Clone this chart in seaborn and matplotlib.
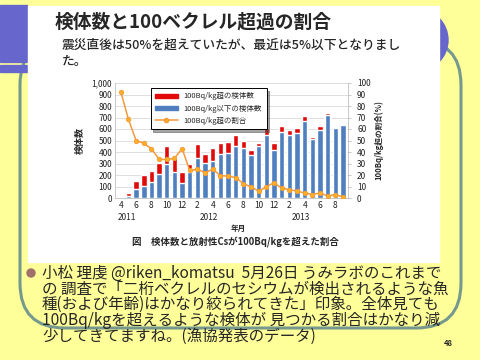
import pandas as pd
import matplotlib.pyplot as plt
import seaborn as sns
from matplotlib.patches import Rectangle, Circle, FancyBboxPatch, Patch
from matplotlib.lines import Line2D
from matplotlib.transforms import blended_transform_factory

# Monthly data, Apr 2011 - Sep 2013
months = [4, 5, 6, 7, 8, 9, 10, 11, 12,
          1, 2, 3, 4, 5, 6, 7, 8, 9, 10, 11, 12,
          1, 2, 3, 4, 5, 6, 7, 8, 9]
below_100 = [2, 15, 75, 105, 135, 205, 300, 230, 130,
             225, 350, 305, 320, 380, 390, 455, 435, 372, 448, 546, 415,
             578, 548, 568, 673, 510, 592, 718, 605, 635]
over_100 = [10, 30, 70, 95, 100, 100, 150, 120, 100,
            70, 120, 80, 115, 95, 95, 95, 62, 43, 34, 64, 65,
            52, 42, 42, 42, 18, 35, 17, 15, 5]
ratio = [92.5, 68.5, 50, 47.5, 43, 33.5, 33.5, 34.4, 43,
         24, 25, 22, 25, 19.5, 19, 17.8, 12.5, 9.6, 6, 9.6, 13.4,
         8.5, 7.3, 6, 4.4, 3, 4.4, 1.7, 3, 0.9]
year_labels = ["2011", "2012", "2013"]

df = pd.DataFrame({
    "idx": range(len(months)),
    "below": below_100,
    "total": [b + o for b, o in zip(below_100, over_100)],
    "ratio": ratio,
})

sns.set_style("white")
plt.rcParams["font.family"] = ["Noto Sans CJK JP", "DejaVu Sans"]

red = "#E00A0A"
blue = "#4F7FBE"
orange = "#F39A3A"
slide_bg = "#FFFF99"
teal = "#76998E"
deco = "#6666CC"

fig = plt.figure(figsize=(4.8, 3.6), dpi=100)
fig.patch.set_facecolor(slide_bg)

# Slide background layer in pixel coordinates
bg = fig.add_axes([0, 0, 1, 1], zorder=0)
bg.set_xlim(0, 480)
bg.set_ylim(360, 0)
bg.axis("off")
bg.add_patch(FancyBboxPatch((20, 40), 441, 288, boxstyle="round,pad=0,rounding_size=45",
                            fill=False, edgecolor=teal, linewidth=2.2))
bg.add_patch(Rectangle((0, 5), 27, 57, color=deco))
bg.add_patch(Rectangle((0, 64.5), 27, 7, color=deco))
bg.add_patch(Circle((417, 40), 31, color=deco))
bg.add_patch(Rectangle((28, 6), 411, 256, color="white"))

bg.text(55, 22, "検体数と100ベクレル超過の割合", fontsize=13.5, fontweight="bold",
        va="center", ha="left")
bg.text(62, 45, "震災直後は50%を超えていたが、最近は5%以下となりまし",
        fontsize=9.2, fontweight="medium", va="center", ha="left")
bg.text(62, 61, "た。", fontsize=9.2, fontweight="medium", va="center", ha="left")
bg.text(238, 228, "年月", fontsize=5.5, fontweight="bold", ha="center", va="center")
bg.text(235, 242, "図　検体数と放射性Csが100Bq/kgを超えた割合", fontsize=6.8,
        fontweight="bold", ha="center", va="center")
bg.text(80, 140, "検体数", fontsize=6.5, fontweight="bold", rotation=90,
        ha="center", va="center")
bg.text(379, 140, "100Bq/kg超の割合(%)", fontsize=5.5, fontweight="bold", rotation=90,
        ha="center", va="center")

# Bullet text
bg.add_patch(Circle((31, 273), 4, color="#A0706A"))
lines = [
    "小松 理虔 @riken_komatsu  5月26日 うみラボのこれまで",
    "の 調査で「二桁ベクレルのセシウムが検出されるような魚",
    "種(および年齢)はかなり絞られてきた」印象。全体見ても",
    "100Bq/kgを超えるような検体が 見つかる割合はかなり減",
    "少してきてますね。(漁協発表のデータ)",
]
for i, line in enumerate(lines):
    bg.text(42, 273 + i * 15.8, line, fontsize=11.2, ha="left", va="center")
bg.text(448, 343, "48", fontsize=5.5, fontweight="bold", ha="center", va="center")

# Chart
ax = fig.add_axes([115 / 480, 1 - 198 / 360, 233 / 480, 115 / 360], zorder=2)
ax.set_facecolor("white")
sns.barplot(data=df, x="idx", y="total", color=red, width=0.72, saturation=1, ax=ax)
sns.barplot(data=df, x="idx", y="below", color=blue, width=0.72, saturation=1, ax=ax)
ax.set_ylim(0, 1000)
ax.set_yticks(range(0, 1001, 100))
ax.set_yticklabels([f"{v:,}" for v in range(0, 1001, 100)])
ax.set_xlim(-0.75, 29.65)
ax.set_xticks(range(0, len(months), 2))
ax.set_xticklabels([str(m) for m in months[::2]])
ax.set_xlabel("")
ax.set_ylabel("")
ax.yaxis.grid(True, color="#D9D9D9", linewidth=0.6)
ax.set_axisbelow(True)
ax.tick_params(labelsize=6, length=0, pad=2, colors="#222222")
for s in ["top", "right"]:
    ax.spines[s].set_visible(False)
for s in ["left", "bottom"]:
    ax.spines[s].set_color("#BFBFBF")
    ax.spines[s].set_linewidth(0.6)

trans = blended_transform_factory(ax.transData, ax.transAxes)
year_pos = [0.8, 11.5, 23.5]
for x, y in zip(year_pos, year_labels):
    ax.text(x, -0.17, y, transform=trans, fontsize=6, ha="center", va="center",
            color="#222222")

ax2 = ax.twinx()
sns.lineplot(data=df, x="idx", y="ratio", ax=ax2, color=orange, linewidth=1.1,
             marker="o", markersize=3.2, markerfacecolor="#FFB020",
             markeredgecolor=orange, markeredgewidth=0.6)
ax2.set_ylim(0, 100)
ax2.set_yticks(range(0, 101, 10))
ax2.set_ylabel("")
ax2.tick_params(labelsize=6, length=2.5, width=0.6, pad=4, colors="#222222")
ax2.tick_params(axis="y", color="#BFBFBF")
for s in ["top", "left", "bottom"]:
    ax2.spines[s].set_visible(False)
ax2.spines["right"].set_color("#BFBFBF")
ax2.spines["right"].set_linewidth(0.6)
ax2.set_xlim(-0.75, 29.65)

handles = [
    Patch(color=red, label="100Bq/kg超の検体数"),
    Patch(color=blue, label="100Bq/kg以下の検体数"),
    Line2D([], [], color=orange, marker="o", markersize=3, markerfacecolor="#FFB020",
           linewidth=1.1, label="100Bq/kg超の割合"),
]
leg = ax2.legend(handles=handles, loc="upper left", bbox_to_anchor=(0.137, 0.99),
                 fontsize=5.4, frameon=True, fancybox=False, shadow=True,
                 handlelength=3.0, handleheight=0.5, labelspacing=0.55,
                 borderpad=0.6, edgecolor="black")
leg.get_frame().set_linewidth(0.7)

fig.savefig("out.png", dpi=100, facecolor=slide_bg)
